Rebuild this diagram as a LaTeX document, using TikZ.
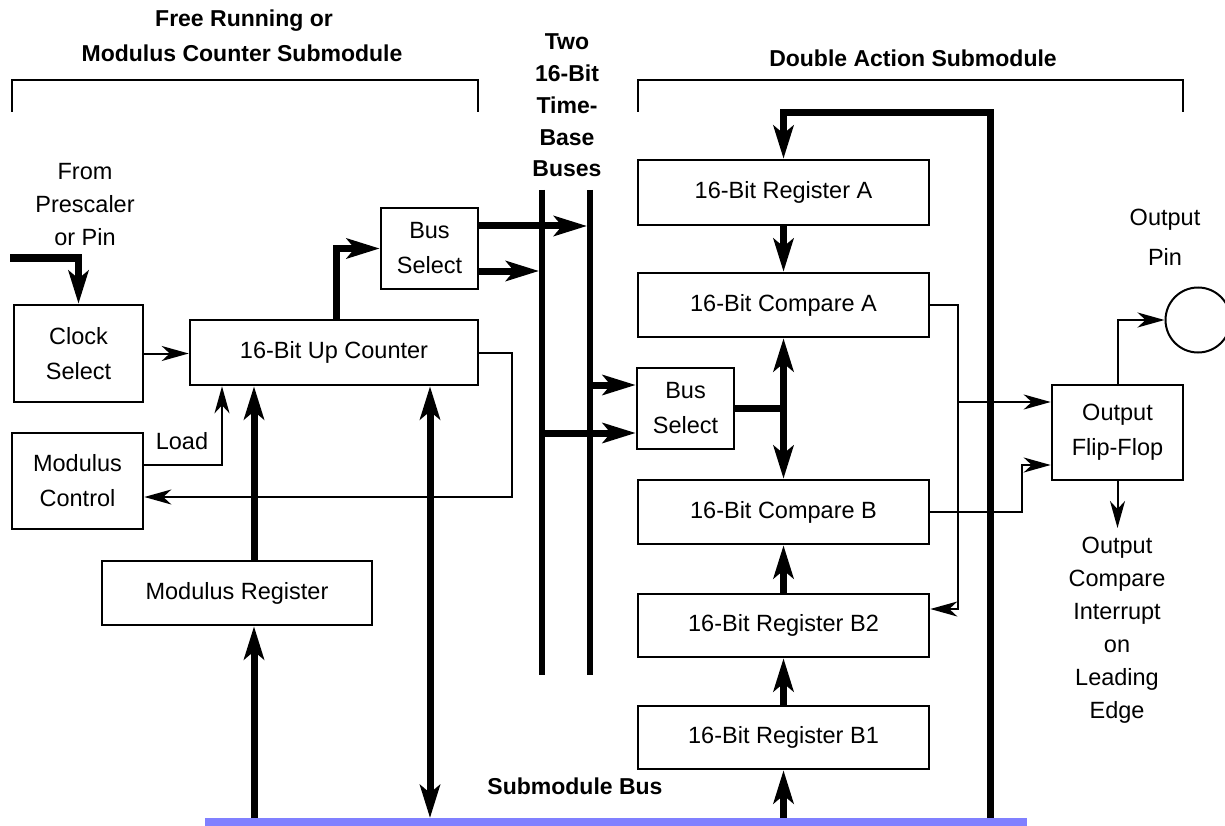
\documentclass[tikz,border=0pt]{standalone}
\usepackage{fontspec}
\setmainfont{Liberation Sans}
\usetikzlibrary{arrows.meta}
\definecolor{busblue}{RGB}{128,128,255}
\tikzset{
  box/.style={draw, line width=2.6pt, inner sep=0pt, align=center, font=\fontsize{23.5}{35}\selectfont},
  lbl/.style={inner sep=0pt, align=center, font=\fontsize{23.5}{33}\selectfont},
  ttl/.style={inner sep=0pt, align=center, font=\fontsize{23}{35}\selectfont\bfseries},
  thinln/.style={line width=2pt},
  thickln/.style={line width=7pt},
  busln/.style={line width=6pt},
  tn/.tip={Stealth[length=27pt,width=15pt,inset=8pt]},
  tk/.tip={Stealth[length=33pt,width=20pt,inset=8pt]},
}
\begin{document}
\begin{tikzpicture}[x=1pt,y=-1pt]
\useasboundingbox (0,0) rectangle (1225,826);

% titles
\node[ttl] (t1) at (244,21) {Free Running or};
\node[ttl] (t2) at (242,53) {Modulus Counter Submodule};
\node[ttl, font=\fontsize{23}{31.75}\selectfont\bfseries] (t3) at (567,105.5) {Two\\16-Bit\\Time-\\Base\\Buses};
\node[ttl] (t4) at (913,58) {Double Action Submodule};
\node[ttl] (t5) at (575,786) {Submodule Bus};

% brackets
\draw[line width=2pt] (12,112) -- (12,80) -- (478,80) -- (478,112);
\draw[line width=2pt] (638,112) -- (638,80) -- (1183,80) -- (1183,112);

% boxes
\node[box, minimum width=129, minimum height=97] (clk) at (78.5,353.5) {Clock\\Select};
\node[box, minimum width=288, minimum height=65] (cnt) at (334,352.5) {16-Bit Up Counter};
\node[box, minimum width=97, minimum height=81] (bs1) at (429.5,248.5) {Bus\\Select};
\node[box, minimum width=131, minimum height=96] (modc) at (77.5,481) {Modulus\\Control};
\node[box, minimum width=270, minimum height=64] (modr) at (237,593) {Modulus Register};
\node[box, minimum width=291, minimum height=65] (regA) at (783.5,192.5) {16-Bit Register A};
\node[box, minimum width=291, minimum height=64] (cmpA) at (783.5,305) {16-Bit Compare A};
\node[box, minimum width=97, minimum height=81] (bs2) at (685.5,408.5) {Bus\\Select};
\node[box, minimum width=291, minimum height=64] (cmpB) at (783.5,512) {16-Bit Compare B};
\node[box, minimum width=291, minimum height=63] (regB2) at (783.5,625.5) {16-Bit Register B2};
\node[box, minimum width=291, minimum height=63] (regB1) at (783.5,737.5) {16-Bit Register B1};
\node[box, minimum width=131, minimum height=95] (ff) at (1117.5,432.5) {Output\\Flip-Flop};
\node[draw, circle, line width=2pt, minimum size=65, inner sep=0pt] (pin) at (1198,320) {};

% bus bar
\node[fill=busblue, inner sep=0pt, minimum width=822, minimum height=8, anchor=north west] (bar) at (205,818) {};

% labels
\node[lbl] (pre) at (85,205) {From\\Prescaler\\or Pin};
\node[lbl] (load) at (182,441) {Load};
\node[lbl, font=\fontsize{23.5}{40}\selectfont] (pinl) at (1165,237) {Output\\Pin};
\node[lbl] (occ) at (1117,630) {Output\\Compare\\Interrupt\\on\\Leading\\Edge};

% helper coordinates
\coordinate (preS) at (10,258);
\coordinate (x222) at (222,0);
\coordinate (x254) at (254,0);
\coordinate (x336) at (336,0);
\coordinate (x430) at (430,0);
\coordinate (x512) at (512,0);
\coordinate (bL1) at (542,190);
\coordinate (bL2) at (542,675);
\coordinate (bR1) at (590,190);
\coordinate (bR2) at (590,675);
\coordinate (fb) at (990,113);
\coordinate (j1) at (958,306);
\coordinate (j2) at (958,609);
\coordinate (j3) at (958,402);
\coordinate (k1) at (1022,512);
\coordinate (k2) at (1022,465);
\coordinate (ffout) at (1117.5,528);
\coordinate (y226) at (0,226);
\coordinate (y271) at (0,271);
\coordinate (y385) at (0,385);
\coordinate (y433) at (0,433);
\coordinate (y465) at (0,465);
\coordinate (y497) at (0,497);

% time-base buses
\draw[busln] (bL1) -- (bL2);
\draw[busln] (bR1) -- (bR2);

% prescaler input
\draw[thickln, -{tk}] (preS) -- (preS -| clk.north) -- (clk.north);
% clock select -> counter
\draw[thinln, -{tn}] (clk.east) -- (clk.east -| cnt.west);
% counter -> bus select 1
\draw[thickln, -{tk}] (x336 |- cnt.north) -- (x336 |- bs1.west) -- (bs1.west);
% bus select 1 -> buses
\draw[thickln, -{tk}, shorten >=3pt] (bs1.east |- y226) -- (bR1 |- y226);
\draw[thickln, -{tk}, shorten >=3pt] (bs1.east |- y271) -- (bL1 |- y271);
% buses -> bus select 2
\draw[thickln, -{tk}] (bR1 |- y385) -- (bs2.west |- y385);
\draw[thickln, -{tk}] (bL1 |- y433) -- (bs2.west |- y433);
% bus select 2 -> compares
\draw[thickln] (bs2.east) -- (bs2.east -| cmpA.south);
\draw[thickln, {tk}-{tk}] (cmpA.south) -- (cmpB.north);
% register stack
\draw[thickln, -{tk}] (regA.south) -- (cmpA.north);
\draw[thickln, -{tk}] (regB2.north) -- (cmpB.south);
\draw[thickln, -{tk}] (regB1.north) -- (regB2.south);
\draw[thickln, -{tk}] (regB1.south |- bar.north) -- (regB1.south);
% feedback from submodule bus to register A
\draw[thickln, -{tk}] (fb |- bar.north) -- (fb) -- (fb -| regA.north) -- (regA.north);
% compare outputs
\draw[thinln, -{tn}] (cmpA.east) -- (cmpA.east -| j1) -- (j2) -- (j2 -| regB2.east);
\draw[thinln, -{tn}] (j3) -- (j3 -| ff.west);
\draw[thinln, -{tn}] (cmpB.east) -- (k1) -- (k2) -- (k2 -| ff.west);
% flip-flop outputs
\draw[thinln, -{tn}] (ff.north) -- (ff.north |- pin.west) -- (pin.west);
\draw[thinln, -{tn}] (ff.south) -- (ffout);
% counter -> modulus control
\draw[thinln, -{tn}] (cnt.east) -- (cnt.east -| x512) -- (x512 |- y497) -- (modc.east |- y497);
% load
\draw[thinln, -{tn}] (modc.east |- y465) -- (x222 |- y465) -- (x222 |- cnt.south);
% modulus register
\draw[thickln, -{tk}] (x254 |- modr.north) -- (x254 |- cnt.south);
\draw[thickln, -{tk}] (x254 |- bar.north) -- (x254 |- modr.south);
% counter <-> submodule bus
\draw[thickln, {tk}-{tk}] (x430 |- cnt.south) -- (x430 |- bar.north);
\end{tikzpicture}
\end{document}
